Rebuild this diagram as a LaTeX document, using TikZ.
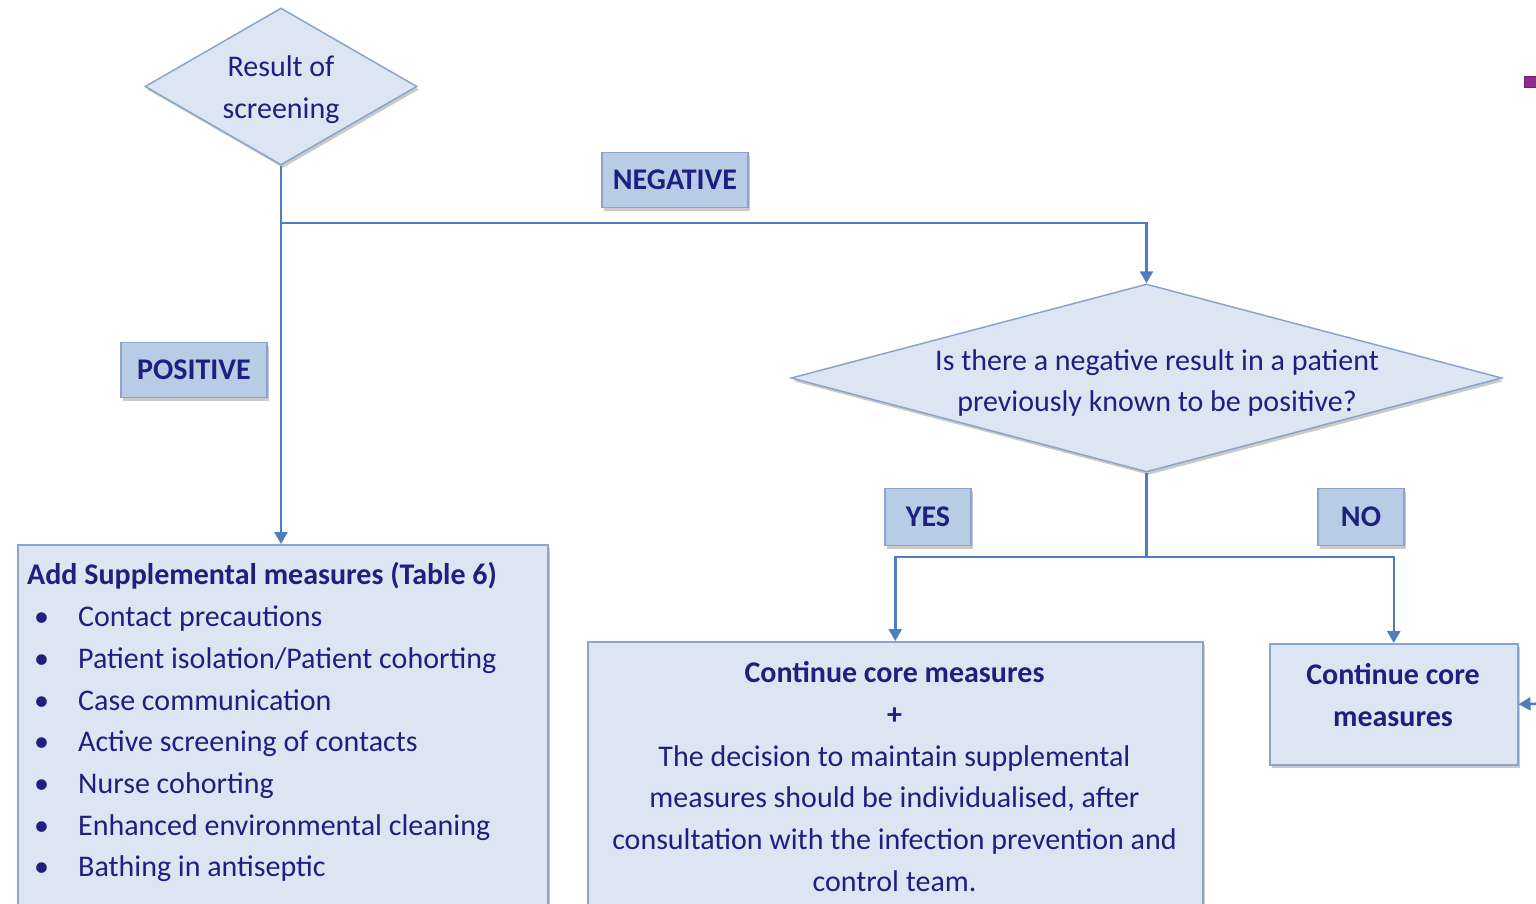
\documentclass[tikz,border=0pt]{standalone}
\usepackage{fontspec}
\setmainfont{Carlito}
\usetikzlibrary{arrows.meta,shapes.geometric,shadows}
\definecolor{boxfill}{HTML}{DCE6F2}
\definecolor{boxdraw}{HTML}{8AA5CC}
\definecolor{linec}{HTML}{4F7EBE}
\definecolor{labfill}{HTML}{B8CCE6}
\definecolor{navy}{HTML}{1F1F80}
\definecolor{purp}{HTML}{8E2C8E}
\tikzset{
  shad/.style={drop shadow={shadow xshift=2pt,shadow yshift=-3pt,opacity=0.35,fill=black!60}},
  boxst/.style={draw=boxdraw,line width=1.5pt,fill=boxfill,shad,inner sep=0pt},
  labst/.style={draw=boxdraw,line width=1.5pt,fill=labfill,shad,inner sep=0pt,text=navy,font=\fontsize{30}{34}\selectfont\bfseries},
  diast/.style={diamond,draw=boxdraw,line width=1.5pt,fill=boxfill,shad,inner sep=0pt},
  conn/.style={draw=linec,line width=2.5pt,-{Triangle[width=13pt,length=12pt]}},
  plain/.style={draw=linec,line width=2.5pt},
  txt/.style={text=navy,inner sep=0pt,font=\fontsize{30}{41.7}\selectfont}
}
\newcommand{\blt}{\hspace*{7pt}\makebox[44pt][l]{\textbullet}}
\begin{document}
\begin{tikzpicture}[x=1pt,y=-1pt]
\useasboundingbox (0,0) rectangle (1536,903);
% diamonds
\node[diast,minimum width=272pt,minimum height=157pt] (d1) at (281,86.5) {};
\node[txt,align=center] (d1t) at (281,90) {Result of\\screening};
\node[diast,minimum width=711pt,minimum height=188pt] (d2) at (1146.5,378) {};
\node[txt,align=center] (d2t) at (1157,383) {Is there a negative result in a patient\\previously known to be positive?};
% boxes
\node[boxst,minimum width=530pt,minimum height=380pt,anchor=north west] (lbox) at (17,544) {};
\node[boxst,minimum width=615pt,minimum height=280pt,anchor=north west] (mbox) at (587,641) {};
\node[boxst,minimum width=248pt,minimum height=121pt,anchor=north west] (rbox) at (1269,643) {};
% labels
\node[labst,minimum width=146pt,minimum height=55pt] (neg) at (675,180) {NEGATIVE};
\node[labst,minimum width=146pt,minimum height=55pt] (pos) at (194,370) {POSITIVE};
\node[labst,minimum width=86pt,minimum height=57pt] (yes) at (928,517) {YES};
\node[labst,minimum width=86pt,minimum height=57pt] (no) at (1361,517) {NO};
% texts
\node[txt,anchor=north west,align=left] (lt) at (27,562.5) {\textbf{Add Supplemental measures (Table 6)}\\
\blt Contact precautions\\
\blt Patient isolation/Patient cohorting\\
\blt Case communication\\
\blt Active screening of contacts\\
\blt Nurse cohorting\\
\blt Enhanced environmental cleaning\\
\blt Bathing in antiseptic};
\node[txt,anchor=north,align=center] (mt) at (894.5,661.5) {\textbf{Continue core measures}\\
\textbf{+}\\
The decision to maintain supplemental\\
measures should be individualised, after\\
consultation with the infection prevention and\\
control team.};
\node[txt,align=center,font=\fontsize{30}{41.7}\selectfont\bfseries] (rt) at (1393,695) {Continue core\\measures};
% connectors
\coordinate (j1) at (281,223);
\coordinate (j2) at (1146.5,557);
\coordinate (ext) at (1560,703);
\draw[conn] (d1.south) -- (d1.south |- lbox.north);
\draw[conn] (j1) -| (d2.north);
\draw[plain] (d2.south) -- (j2);
\draw[conn] (j2) -| (mbox.north);
\draw[conn] (j2) -| (rbox.north);
\draw[conn] (ext) -- (rbox.east);
% purple mark
\node[draw=purp!80!black,fill=purp,line width=1pt,minimum width=14pt,minimum height=11pt,inner sep=0pt,anchor=west] (pm) at (1524,82) {};
\end{tikzpicture}
\end{document}
